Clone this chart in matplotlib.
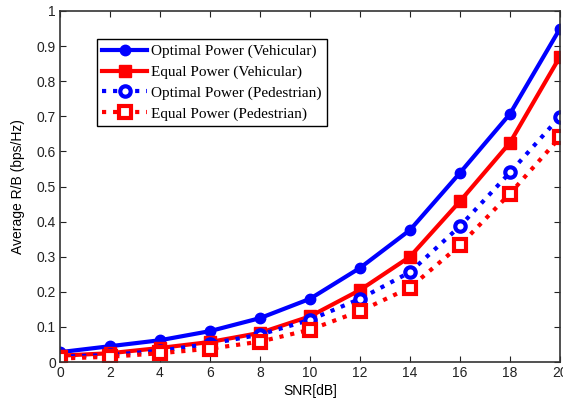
import matplotlib
matplotlib.use("Agg")
import matplotlib.pyplot as plt
import numpy as np

snr_db = [0, 2, 4, 6, 8, 10, 12, 14, 16, 18, 20]
optimal_vehicular = [0.028, 0.045, 0.062, 0.088, 0.125, 0.180, 0.268, 0.376, 0.539, 0.707, 0.950]
equal_vehicular = [0.018, 0.025, 0.040, 0.057, 0.083, 0.130, 0.205, 0.300, 0.458, 0.625, 0.870]
optimal_pedestrian = [0.015, 0.020, 0.032, 0.052, 0.078, 0.120, 0.180, 0.256, 0.387, 0.540, 0.699]
equal_pedestrian = [0.010, 0.015, 0.025, 0.038, 0.058, 0.092, 0.145, 0.212, 0.333, 0.480, 0.640]

labels = ["Optimal Power (Vehicular)", "Equal Power (Vehicular)",
          "Optimal Power (Pedestrian)", "Equal Power (Pedestrian)"]

fig = plt.figure(figsize=(5.63, 4.05), dpi=100)
ax = fig.add_axes([60 / 563, 43 / 405, 500 / 563, 351 / 405])

lw = 3.0
ax.plot(snr_db, optimal_vehicular, color="blue", linestyle="-", linewidth=lw,
        marker="o", markersize=7.5, label=labels[0])
ax.plot(snr_db, equal_vehicular, color="red", linestyle="-", linewidth=lw,
        marker="s", markersize=8.5, label=labels[1])
ax.plot(snr_db, optimal_pedestrian, color="blue", linestyle=":", linewidth=lw,
        marker="o", markersize=7.5, markerfacecolor="white", markeredgewidth=3,
        label=labels[2])
ax.plot(snr_db, equal_pedestrian, color="red", linestyle=":", linewidth=lw,
        marker="s", markersize=8.5, markerfacecolor="white", markeredgewidth=3,
        label=labels[3])

ax.set_xlim(0, 20)
ax.set_ylim(0, 1)
ax.set_xticks(np.arange(0, 21, 2))
ax.set_yticks(np.arange(0, 1.01, 0.1))
ax.set_yticklabels(["0"] + ["%.1f" % v for v in np.arange(0.1, 0.95, 0.1)] + ["1"])
ax.tick_params(direction="in", top=True, right=True, labelsize=10, length=4,
               pad=3, colors="#222222")
for lab in ax.get_xticklabels() + ax.get_yticklabels():
    lab.set_family("Liberation Sans")
for sp in ax.spines.values():
    sp.set_color("#333333")
    sp.set_linewidth(1.2)

ax.set_xlabel("SNR[dB]", family="Liberation Sans", fontsize=10, labelpad=3)
ax.set_ylabel("Average R/B (bps/Hz)", family="Liberation Sans", fontsize=10, labelpad=8)

leg = ax.legend(loc="upper left", bbox_to_anchor=(0.074, 0.92), borderaxespad=0,
                prop={"family": "Liberation Serif", "size": 11}, fancybox=False,
                framealpha=1, edgecolor="black", handlelength=2.9, handletextpad=0.3,
                labelspacing=0.45, borderpad=0.35)
leg.get_frame().set_linewidth(1.0)

fig.savefig("out.png", dpi=100)
